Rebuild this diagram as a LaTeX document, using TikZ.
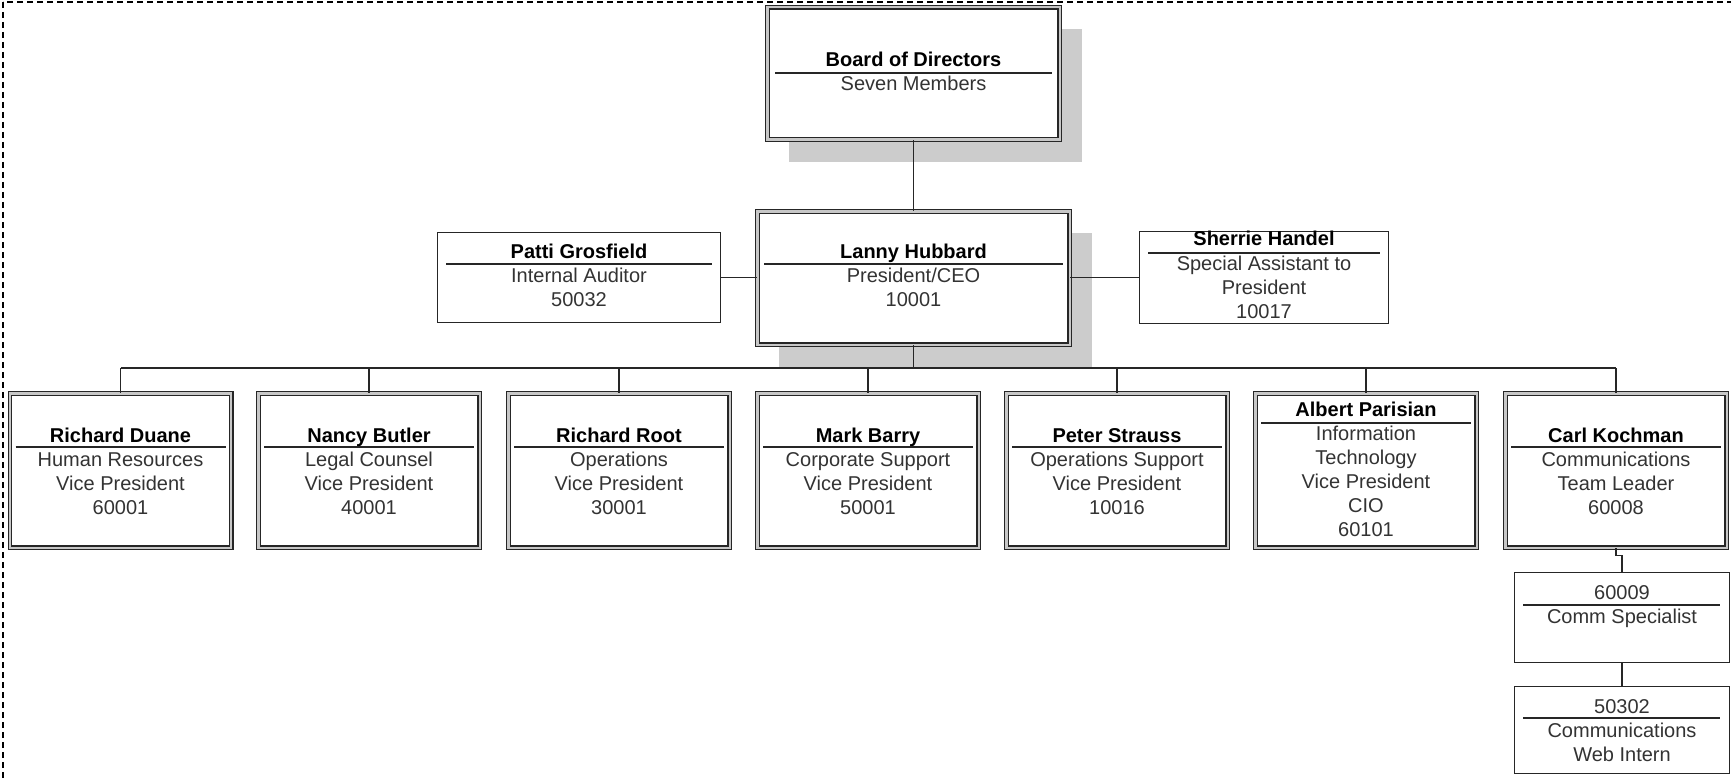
\documentclass[tikz,border=0pt]{standalone}
\usepackage{fontspec}
\setmainfont{Liberation Sans}
\usetikzlibrary{calc}
\pgfdeclarelayer{bg}
\pgfsetlayers{bg,main}
\newcommand\tline[4]{\node[bdy] (#1) at (#2,#3) {#4};}
\newcommand\ttline[4]{\node[ttl] (#1) at (#2,#3) {#4};}
\begin{document}
\begin{tikzpicture}[x=1pt,y=-1pt,
  dbox/.style={draw=black!85,double=black!22,double distance=2.4pt,line width=1.1pt,fill=white,inner sep=0pt},
  sbox/.style={draw=black!85,line width=1.3pt,fill=white,inner sep=0pt},
  shade/.style={fill=black!20},
  conn/.style={draw=black!85,line width=1.3pt},
  bus/.style={draw=black!85,line width=1.6pt},
  sepline/.style={draw=black!85,line width=1.3pt},
  ttl/.style={anchor=base,inner sep=0pt,font=\fontsize{20}{24}\selectfont\bfseries,text=black},
  bdy/.style={anchor=base,inner sep=0pt,font=\fontsize{20}{24}\selectfont,text=black!80},
  frame/.style={draw=black,line width=1.2pt,dash pattern=on 6pt off 4pt}]
\useasboundingbox (0,0) rectangle (1731,778);
\draw[frame] (3,2) rectangle (1780,820);

% ---- top boxes
\node[dbox,minimum width=292.4pt,minimum height=132.4pt] (bod) at (913.5,73.5) {};
\node[dbox,minimum width=312.4pt,minimum height=133.4pt] (lan) at (913.5,278) {};
\node[sbox,minimum width=283pt,minimum height=90pt] (pat) at (579,277.5) {};
\node[sbox,minimum width=249pt,minimum height=92pt] (she) at (1264,277.5) {};

\begin{pgfonlayer}{bg}
  \fill[shade] ($(bod.south west)+(22,22)$) rectangle ($(bod.north east)+(22,22)$);
  \fill[shade] ($(lan.south west)+(22,22)$) rectangle ($(lan.north east)+(22,22)$);
\end{pgfonlayer}

% ---- VP boxes
\foreach \nm/\cx in {rd/120.5,nb/369,rr/619,mb/868,ps/1117,ap/1366,ck/1616}
  \node[dbox,minimum width=221.4pt,minimum height=154.4pt] (\nm) at (\cx,470.5) {};

% ---- sub boxes
\node[sbox,minimum width=215pt,minimum height=90pt] (cs) at (1622,617.5) {};
\node[sbox,minimum width=215pt,minimum height=87pt] (wi) at (1622,730) {};

% ---- texts: Board
\ttline{bodT}{913.5}{67}{Board of Directors}
\draw[sepline] (775,73) -- (1052,73);
\tline{bodB}{913.5}{91}{Seven Members}

% Lanny
\ttline{lanT}{913.5}{258}{Lanny Hubbard}
\draw[sepline] (764,264) -- (1063,264);
\tline{lanB1}{913.5}{282}{President/CEO}
\tline{lanB2}{913.5}{306}{10001}

% Patti
\ttline{patT}{579}{258}{Patti Grosfield}
\draw[sepline] (446,264) -- (712,264);
\tline{patB1}{579}{282}{Internal Auditor}
\tline{patB2}{579}{306}{50032}

% Sherrie
\ttline{sheT}{1264}{245}{Sherrie Handel}
\draw[sepline] (1148,253) -- (1380,253);
\tline{sheB1}{1264}{270}{Special Assistant to}
\tline{sheB2}{1264}{294}{President}
\tline{sheB3}{1264}{318}{10017}

% VPs
\ttline{rdT}{120.5}{442}{Richard Duane}
\draw[sepline] (15.5,447) -- (225.5,447);
\tline{rdB1}{120.5}{466}{Human Resources}
\tline{rdB2}{120.5}{490}{Vice President}
\tline{rdB3}{120.5}{514}{60001}

\ttline{nbT}{369}{442}{Nancy Butler}
\draw[sepline] (264,447) -- (474,447);
\tline{nbB1}{369}{466}{Legal Counsel}
\tline{nbB2}{369}{490}{Vice President}
\tline{nbB3}{369}{514}{40001}

\ttline{rrT}{619}{442}{Richard Root}
\draw[sepline] (514,447) -- (724,447);
\tline{rrB1}{619}{466}{Operations}
\tline{rrB2}{619}{490}{Vice President}
\tline{rrB3}{619}{514}{30001}

\ttline{mbT}{868}{442}{Mark Barry}
\draw[sepline] (763,447) -- (973,447);
\tline{mbB1}{868}{466}{Corporate Support}
\tline{mbB2}{868}{490}{Vice President}
\tline{mbB3}{868}{514}{50001}

\ttline{psT}{1117}{442}{Peter Strauss}
\draw[sepline] (1012,447) -- (1222,447);
\tline{psB1}{1117}{466}{Operations Support}
\tline{psB2}{1117}{490}{Vice President}
\tline{psB3}{1117}{514}{10016}

\ttline{apT}{1366}{416}{Albert Parisian}
\draw[sepline] (1261,423) -- (1471,423);
\tline{apB1}{1366}{440}{Information}
\tline{apB2}{1366}{464}{Technology}
\tline{apB3}{1366}{488}{Vice President}
\tline{apB4}{1366}{512}{CIO}
\tline{apB5}{1366}{536}{60101}

\ttline{ckT}{1616}{442}{Carl Kochman}
\draw[sepline] (1511,447) -- (1721,447);
\tline{ckB1}{1616}{466}{Communications}
\tline{ckB2}{1616}{490}{Team Leader}
\tline{ckB3}{1616}{514}{60008}

% sub boxes
\tline{csT}{1622}{599}{60009}
\draw[sepline] (1523,605) -- (1720,605);
\tline{csB1}{1622}{623}{Comm Specialist}

\tline{wiT}{1622}{713}{50302}
\draw[sepline] (1523,718) -- (1720,718);
\tline{wiB1}{1622}{737}{Communications}
\tline{wiB2}{1622}{761}{Web Intern}

% ---- connectors
\coordinate (busc) at (913.5,368);
\draw[conn] (bod.south) -- (lan.north);
\draw[conn] (pat.east) -- (pat.east -| lan.west);
\draw[conn] (she.west) -- (she.west -| lan.east);
\draw[bus] (lan.south) -- (busc);
\draw[bus] (busc -| rd.north) -- (busc -| ck.north);
\foreach \nm in {rd,nb,rr,mb,ps,ap,ck}
  \draw[conn] (\nm.north) -- (\nm.north |- busc);
\draw[conn] (ck.south) -- ++(0,7) -| (cs.north);
\draw[conn] (cs.south) -- (wi.north);
\end{tikzpicture}
\end{document}
